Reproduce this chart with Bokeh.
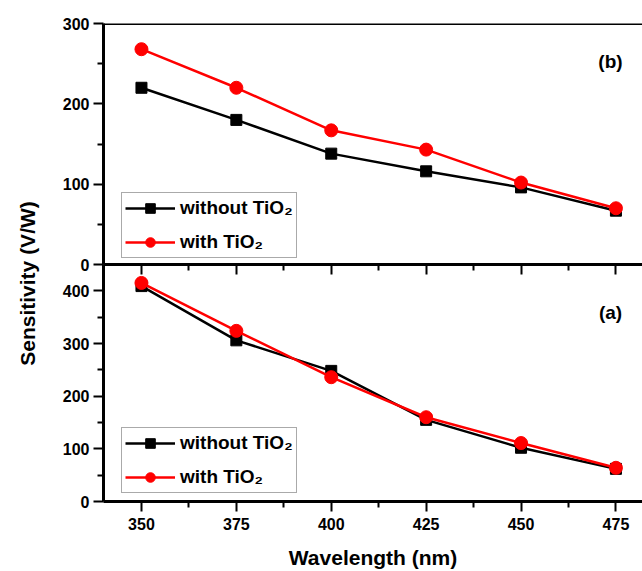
from bokeh.embed import file_html
from bokeh.layouts import column
from bokeh.models import (ColumnDataSource, CustomLabelingPolicy, FixedTicker,
                          Label, Legend, LegendItem, Range1d, Span)
from bokeh.plotting import figure
from bokeh.resources import INLINE

# Wavelength (nm) shared by both panels
wavelength = [350, 375, 400, 425, 450, 475]

# Panel (b): sensitivity (V/W)
b_without = [220, 180, 138, 116, 96, 67]
b_with = [268, 220, 167, 143, 102, 70]

# Panel (a): sensitivity (V/W)
a_without = [409, 306, 248, 155, 102, 62]
a_with = [415, 324, 236, 160, 111, 64]

x_ticks = [350, 375, 400, 425, 450, 475]
x_minor = [337.5, 362.5, 387.5, 412.5, 437.5, 462.5, 487.5]
b_ticks = [0, 100, 200, 300]
b_minor = [50, 150, 250]
a_ticks = [0, 100, 200, 300, 400]
a_minor = [50, 150, 250, 350]

FONT = "Liberation Sans"
RED = "#ff0000"
BLACK = "#000000"

W, H = 642, 571
LEFT = 103
TOP_FRAME = 23
SPLIT = 264          # y of the shared boundary (pixels from the top)
BOTTOM_FRAME = 505

x_range = Range1d(340, 482)

# hides every tick label of an axis while keeping its ticks
NO_LABELS = CustomLabelingPolicy(code="""
    for (const i of Array.from(indices))
        indices.unset(i)
    return indices
""")


def style_left_axis(ax, ticks, minor):
    ax.ticker = FixedTicker(ticks=ticks, minor_ticks=minor)
    ax.axis_line_width = 3
    ax.axis_line_color = BLACK
    ax.major_tick_line_width = 2
    ax.minor_tick_line_width = 2
    ax.major_tick_out = 10
    ax.major_tick_in = 0
    ax.minor_tick_out = 6
    ax.minor_tick_in = 0
    ax.major_label_text_font = FONT
    ax.major_label_text_font_style = "bold"
    ax.major_label_text_font_size = "16px"
    ax.major_label_text_color = BLACK
    ax.major_label_standoff = 4


def style_bottom_axis(ax, show_labels):
    ax.ticker = FixedTicker(ticks=x_ticks, minor_ticks=x_minor)
    ax.axis_line_width = 3
    ax.axis_line_color = BLACK
    ax.major_tick_line_width = 2
    ax.minor_tick_line_width = 2
    ax.major_tick_out = 10
    ax.major_tick_in = 0
    ax.minor_tick_out = 6
    ax.minor_tick_in = 0
    ax.major_label_text_font = FONT
    ax.major_label_text_font_style = "bold"
    ax.major_label_text_font_size = "16px"
    ax.major_label_text_color = BLACK
    ax.major_label_standoff = 6
    if not show_labels:
        ax.major_label_policy = NO_LABELS


def add_series(p, y_without, y_with, legend_y):
    src = ColumnDataSource(dict(x=wavelength, wo=y_without, w=y_with))
    l1 = p.line("x", "wo", source=src, line_color=BLACK, line_width=2.5)
    m1 = p.scatter("x", "wo", source=src, marker="square", size=11,
                   fill_color=BLACK, line_color=BLACK)
    l2 = p.line("x", "w", source=src, line_color=RED, line_width=2.5)
    m2 = p.scatter("x", "w", source=src, marker="circle", size=13,
                   fill_color=RED, line_color=RED)
    legend = Legend(
        items=[LegendItem(label="without TiO\u2082", renderers=[l1, m1]),
               LegendItem(label="with TiO\u2082", renderers=[l2, m2])],
        location=(18, legend_y),
        orientation="vertical",
        glyph_width=50, glyph_height=24, label_height=24,
        label_standoff=5, spacing=10, padding=3, margin=0,
        border_line_color="#555555", border_line_width=1,
        background_fill_color="white", background_fill_alpha=1,
        label_text_font=FONT, label_text_font_style="bold",
        label_text_font_size="19px", label_text_color=BLACK,
    )
    p.add_layout(legend)


def panel_label(text, x, y):
    # x, y: pixels from the frame's lower-left corner
    return Label(x=x, y=y, x_units="screen", y_units="screen", text=text,
                 text_align="center", text_baseline="middle",
                 text_font=FONT, text_font_style="bold",
                 text_font_size="19px", text_color=BLACK)


# ---- upper panel (b)
top = figure(width=W, height=H, x_range=x_range, y_range=Range1d(0, 300),
             min_border_left=LEFT, min_border_right=0,
             min_border_top=TOP_FRAME, min_border_bottom=H - SPLIT,
             output_backend="svg", toolbar_location=None,
             outline_line_color=None)
top.title.visible = False
top.xgrid.visible = False
top.ygrid.visible = False
style_left_axis(top.yaxis[0], b_ticks, b_minor)
style_bottom_axis(top.xaxis[0], show_labels=False)
top.add_layout(Span(location=300, dimension="width", line_color=BLACK,
                    line_width=3))
add_series(top, b_without, b_with, 6)
top.add_layout(panel_label("(b)", 610 - LEFT, SPLIT - 61))

# ---- lower panel (a), laid over the lower part of the page
bh = H - SPLIT
bot = figure(width=W, height=bh, x_range=x_range, y_range=Range1d(0, 450),
             min_border_left=LEFT, min_border_right=0,
             min_border_top=0, min_border_bottom=H - BOTTOM_FRAME,
             output_backend="svg", toolbar_location=None,
             outline_line_color=None,
             background_fill_alpha=0, border_fill_alpha=0,
             margin=(-bh, 0, 0, 0))
bot.title.visible = False
bot.xgrid.visible = False
bot.ygrid.visible = False
style_left_axis(bot.yaxis[0], a_ticks, a_minor)
style_bottom_axis(bot.xaxis[0], show_labels=True)
bot.xaxis[0].axis_label = "Wavelength (nm)"
bot.xaxis[0].axis_label_text_font = FONT
bot.xaxis[0].axis_label_text_font_style = "bold"
bot.xaxis[0].axis_label_text_font_size = "21px"
bot.xaxis[0].axis_label_text_color = BLACK
bot.xaxis[0].axis_label_standoff = 13
add_series(bot, a_without, a_with, 8)
bot.add_layout(panel_label("(a)", 610 - LEFT, BOTTOM_FRAME - 316))

# ---- shared y-axis title spanning both panels (transparent overlay);
# its frame lines up with the panels' frames, so the title is pushed
# out to the page's left edge by the standoff
ylab = figure(width=W, height=H, x_range=Range1d(0, 1),
              y_range=Range1d(0, 1), x_axis_location=None,
              min_border_left=LEFT, min_border_right=0,
              min_border_top=61, min_border_bottom=H - BOTTOM_FRAME,
              output_backend="svg", toolbar_location=None,
              outline_line_color=None,
              background_fill_alpha=0, border_fill_alpha=0,
              margin=(-H, 0, 0, 0))
ylab.title.visible = False
ylab.xgrid.visible = False
ylab.ygrid.visible = False
yl = ylab.yaxis[0]
yl.ticker = FixedTicker(ticks=[])
yl.axis_line_color = None
yl.major_tick_line_color = None
yl.minor_tick_line_color = None
yl.major_tick_out = 0
yl.minor_tick_out = 0
yl.major_label_policy = NO_LABELS
yl.major_label_standoff = 0
yl.axis_label = "Sensitivity (V/W)"
yl.axis_label_text_font = FONT
yl.axis_label_text_font_style = "bold"
yl.axis_label_text_font_size = "21px"
yl.axis_label_text_color = BLACK
yl.axis_label_standoff = 65

layout = column(top, bot, ylab, spacing=0)
open("out.html", "w").write(file_html(layout, INLINE))
